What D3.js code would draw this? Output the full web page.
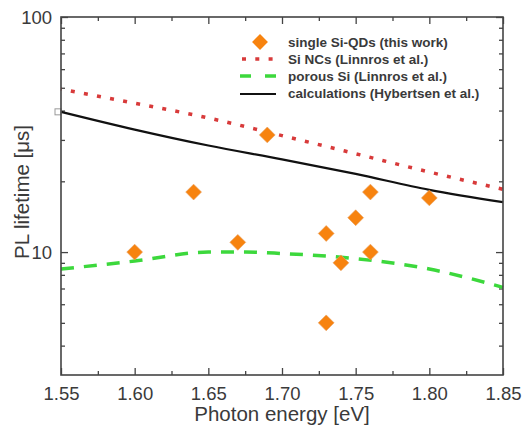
<!DOCTYPE html>
<html>
<head>
<meta charset="utf-8">
<script src="https://cdn.jsdelivr.net/npm/d3@7"></script>
<style>
  body { margin: 0; background: #fff; }
  text { font-family: "Liberation Sans", Arial, sans-serif; fill: #3a3a3a; }
</style>
</head>
<body>
<div class="chart"></div>
<script>
"use strict";

// single Si-QDs (this work)
const qdEnergy = [1.60, 1.64, 1.67, 1.69, 1.73, 1.73, 1.74, 1.75, 1.76, 1.76, 1.80];
const qdLifetime = [10, 18, 11, 31.5, 12, 5, 9, 14, 18, 10, 17];

// Si NCs and calculations, read at the major ticks
const lineEnergy = [1.55, 1.60, 1.65, 1.70, 1.75, 1.80, 1.85];
const ncLifetime = [49.3, 43, 37.2, 31.3, 26.2, 21.9, 18.5];
const calcLifetime = [39.5, 33.2, 28.4, 24.8, 21.5, 18.4, 16.3];

// porous Si
const porousEnergy = [1.55, 1.60, 1.65, 1.675, 1.70, 1.75, 1.80, 1.85];
const porousLifetime = [8.47, 9.16, 10, 10, 9.86, 9.38, 8.47, 7.08];

const xTickValues = [1.55, 1.60, 1.65, 1.70, 1.75, 1.80, 1.85];
const xMinorTicks = [1.575, 1.625, 1.675, 1.725, 1.775, 1.825];
const yTickValues = [10, 100];
const yMinorTicks = [4, 5, 6, 7, 8, 9, 20, 30, 40, 50, 60, 70, 80, 90];

const legendLabels = [
  "single Si-QDs (this work)",
  "Si NCs (Linnros et al.)",
  "porous Si (Linnros et al.)",
  "calculations (Hybertsen et al.)"
];

const width = 524;
const height = 431;
const margin = { top: 17, right: 21, bottom: 56, left: 61 };
const innerWidth = width - margin.left - margin.right;
const innerHeight = height - margin.top - margin.bottom;

const svg = d3.select(".chart")
  .append("svg")
    .attr("width", width)
    .attr("height", height);

const inner = svg.append("g")
  .attr("transform", `translate(${margin.left}, ${margin.top})`);

const xScale = d3.scaleLinear()
  .domain([1.55, 1.85])
  .range([0, innerWidth]);

const yScale = d3.scaleLog()
  .domain([3, 100])
  .range([innerHeight, 0]);

const axisColor = "#444";

// ticks pointing inside, on all four sides
function styleAxis(g) {
  g.attr("font-size", null).attr("font-family", null);
  g.select(".domain").remove();
  g.selectAll(".tick line").attr("stroke", axisColor).attr("stroke-width", 1.3);
}

function noLabels(g) {
  g.selectAll("text").remove();
}

inner.append("g")
  .attr("transform", `translate(0, ${innerHeight})`)
  .call(d3.axisBottom(xScale).tickValues(xTickValues).tickFormat(d3.format(".2f")).tickSizeInner(-7))
  .call(styleAxis)
  .call(g => g.selectAll("text")
    .attr("font-size", 18.5)
    .attr("fill", "#3a3a3a")
    .attr("dy", null)
    .attr("y", 25));

inner.append("g")
  .attr("transform", `translate(0, ${innerHeight})`)
  .call(d3.axisBottom(xScale).tickValues(xMinorTicks).tickSizeInner(-4))
  .call(styleAxis)
  .call(noLabels);

inner.append("g")
  .call(d3.axisTop(xScale).tickValues(xTickValues).tickSizeInner(-7))
  .call(styleAxis)
  .call(noLabels);

inner.append("g")
  .call(d3.axisTop(xScale).tickValues(xMinorTicks).tickSizeInner(-4))
  .call(styleAxis)
  .call(noLabels);

inner.append("g")
  .call(d3.axisLeft(yScale).tickValues(yTickValues).tickFormat(d3.format("d")).tickSizeInner(-7))
  .call(styleAxis)
  .call(g => g.selectAll("text")
    .attr("font-size", 18.5)
    .attr("fill", "#3a3a3a")
    .attr("dy", null)
    .attr("x", -9)
    .attr("y", 6.5));

inner.append("g")
  .call(d3.axisLeft(yScale).tickValues(yMinorTicks).tickSizeInner(-4))
  .call(styleAxis)
  .call(noLabels);

inner.append("g")
  .attr("transform", `translate(${innerWidth}, 0)`)
  .call(d3.axisRight(yScale).tickValues(yTickValues).tickSizeInner(-7))
  .call(styleAxis)
  .call(noLabels);

inner.append("g")
  .attr("transform", `translate(${innerWidth}, 0)`)
  .call(d3.axisRight(yScale).tickValues(yMinorTicks).tickSizeInner(-4))
  .call(styleAxis)
  .call(noLabels);

// Series lines
const ncData = lineEnergy.map((e, i) => ({ e, v: ncLifetime[i] }));
const calcData = lineEnergy.map((e, i) => ({ e, v: calcLifetime[i] }));
const porousData = porousEnergy.map((e, i) => ({ e, v: porousLifetime[i] }));

const lineGenerator = d3.line()
  .x(d => xScale(d.e))
  .y(d => yScale(d.v))
  .curve(d3.curveMonotoneX);

const plot = inner.append("g");

plot.append("path")
  .attr("d", lineGenerator(ncData))
  .attr("fill", "none")
  .attr("stroke", "#d83a3a")
  .attr("stroke-width", 3.5)
  .attr("stroke-dasharray", "4 9.3")
  .attr("stroke-dashoffset", -10);

plot.append("path")
  .attr("d", lineGenerator(porousData))
  .attr("fill", "none")
  .attr("stroke", "#3cd83c")
  .attr("stroke-width", 3.5)
  .attr("stroke-dasharray", "13 10");

plot.append("path")
  .attr("d", lineGenerator(calcData))
  .attr("fill", "none")
  .attr("stroke", "#111")
  .attr("stroke-width", 2.2);

// small open square where the calculation curve meets the axis
plot.append("rect")
  .attr("x", xScale(calcData[0].e) - 6)
  .attr("y", yScale(calcData[0].v) - 3)
  .attr("width", 6)
  .attr("height", 6)
  .attr("fill", "#fff")
  .attr("stroke", "#999")
  .attr("stroke-width", 1);

const diamond = d3.symbol().type(d3.symbolDiamond2).size(160);
const diamondColor = "#f7830f";

plot.selectAll("path.qd")
  .data(qdEnergy.map((e, i) => ({ e, v: qdLifetime[i] })))
  .join("path")
    .attr("class", "qd")
    .attr("d", diamond)
    .attr("transform", d => `translate(${xScale(d.e)}, ${yScale(d.v)})`)
    .attr("fill", diamondColor)
    .attr("stroke", "#e8a060")
    .attr("stroke-width", 0.6);

// Frame
inner.append("rect")
  .attr("width", innerWidth)
  .attr("height", innerHeight)
  .attr("fill", "none")
  .attr("stroke", axisColor)
  .attr("stroke-width", 1.6);

// Legend
const legend = inner.append("g")
  .attr("transform", "translate(179, 25)");

const rowGap = 17;
legend.selectAll("text")
  .data(legendLabels)
  .join("text")
    .attr("x", 48)
    .attr("y", (d, i) => i * rowGap + 5)
    .attr("font-size", 13.5)
    .attr("font-weight", "bold")
    .attr("fill", "#3a3a3a")
    .text(d => d);

legend.append("path")
  .attr("d", diamond)
  .attr("transform", "translate(20, 0)")
  .attr("fill", diamondColor);

legend.append("line")
  .attr("x1", 2).attr("x2", 36)
  .attr("y1", rowGap).attr("y2", rowGap)
  .attr("stroke", "#d83a3a")
  .attr("stroke-width", 3.5)
  .attr("stroke-dasharray", "4 9.3");

legend.append("line")
  .attr("x1", 0).attr("x2", 36)
  .attr("y1", rowGap * 2).attr("y2", rowGap * 2)
  .attr("stroke", "#3cd83c")
  .attr("stroke-width", 3.5)
  .attr("stroke-dasharray", "11 14");

legend.append("line")
  .attr("x1", 0).attr("x2", 36)
  .attr("y1", rowGap * 3 + 1).attr("y2", rowGap * 3 + 1)
  .attr("stroke", "#111")
  .attr("stroke-width", 2.2);

// Axis titles
svg.append("text")
  .attr("x", margin.left + innerWidth / 2)
  .attr("y", 421)
  .attr("text-anchor", "middle")
  .attr("font-size", 20.5)
  .text("Photon energy [eV]");

svg.append("text")
  .attr("transform", `translate(29, 192) rotate(-90)`)
  .attr("text-anchor", "middle")
  .attr("font-size", 20.5)
  .text("PL lifetime [μs]");
</script>
</body>
</html>
